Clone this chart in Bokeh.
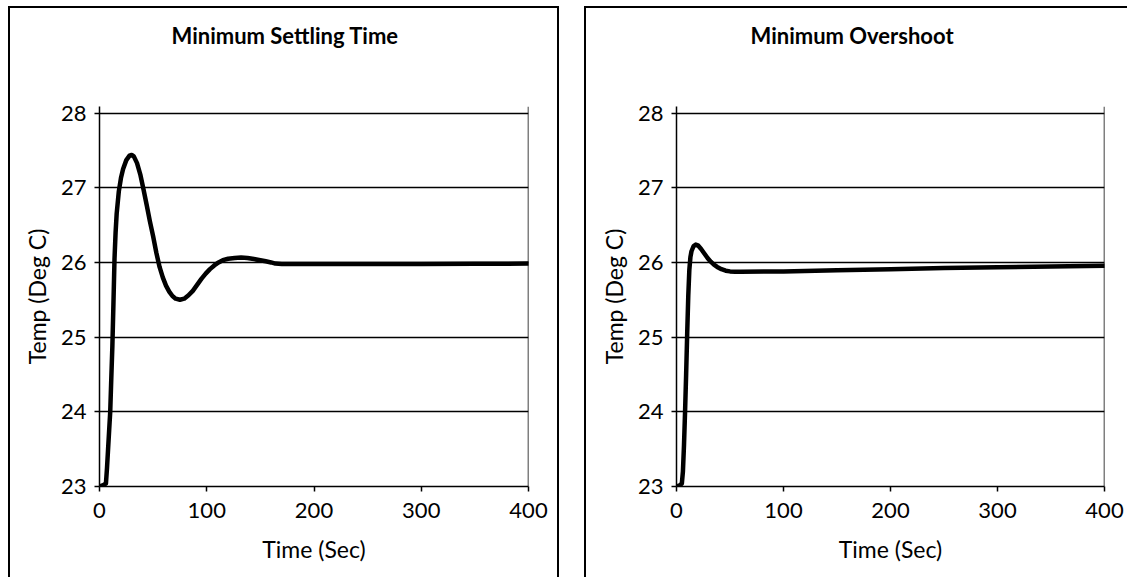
from bokeh.plotting import figure
from bokeh.models import Range1d, FixedTicker, Span, Title
from bokeh.layouts import row
from bokeh.embed import file_html
from bokeh.resources import INLINE

# ---- data ----
time_settling = [0, 3, 6, 7, 8, 9, 10, 11, 12, 13, 14, 15, 16, 18, 20, 22, 25, 28, 30,
                 32, 35, 38, 41, 44, 47, 50, 53, 56, 59, 62, 65, 68, 71, 75, 79, 83, 87,
                 91, 95, 99, 103, 107, 111, 115, 120, 126, 132, 138, 144, 150, 155, 160,
                 164, 170, 200, 250, 300, 350, 400]
temp_settling = [23.0, 23.015, 23.04, 23.25, 23.5, 23.75, 24.0, 24.45, 24.88, 25.45,
                 26.05, 26.4, 26.65, 26.95, 27.13, 27.25, 27.37, 27.43, 27.44, 27.42,
                 27.33, 27.18, 26.98, 26.77, 26.55, 26.35, 26.13, 25.94, 25.8, 25.69,
                 25.61, 25.55, 25.515, 25.5, 25.515, 25.56, 25.62, 25.7, 25.78, 25.85,
                 25.91, 25.96, 26.0, 26.03, 26.05, 26.06, 26.065, 26.06, 26.045, 26.03,
                 26.015, 26.0, 25.985, 25.98, 25.978, 25.978, 25.98, 25.982, 25.985]

time_overshoot = [0, 3, 5, 6, 7, 8, 9, 10, 11, 12, 13, 14, 16, 18, 20, 23, 26, 29, 32,
                  35, 38, 42, 46, 50, 55, 60, 100, 150, 200, 250, 300, 350, 400]
temp_overshoot = [23.0, 23.015, 23.04, 23.2, 23.55, 24.0, 24.5, 25.05, 25.55, 25.9,
                  26.07, 26.15, 26.22, 26.24, 26.23, 26.18, 26.12, 26.06, 26.01, 25.97,
                  25.94, 25.91, 25.89, 25.88, 25.875, 25.875, 25.88, 25.895, 25.91,
                  25.925, 25.935, 25.945, 25.955]

x_ticks = [0, 100, 200, 300, 400]
y_ticks = [23, 24, 25, 26, 27, 28]
titles = ["Minimum Settling Time", "Minimum Overshoot"]
x_label = "Time (Sec)"
y_label = "Temp (Deg C)"

FONT = "Lato"
HEIGHT = 577
FRAME_H = 380


def make_panel(title, t, temp, width, mb_left, mb_right, title_offset, shadow):
    p = figure(width=width, height=HEIGHT,
               x_range=Range1d(0, 400), y_range=Range1d(23, 28.088),
               output_backend="svg", toolbar_location=None,
               min_border_left=mb_left, min_border_right=mb_right,
               min_border_top=106, min_border_bottom=HEIGHT - 106 - FRAME_H)
    p.styles = {"box-shadow": shadow}
    p.border_fill_color = None
    p.background_fill_color = None
    p.outline_line_color = None

    # blank spacer title next to the frame, real title above it
    p.add_layout(Title(text=" ", standoff=50, text_font_size="1px"), "above")
    p.add_layout(Title(text=title, align="left", offset=title_offset, standoff=10,
                       text_font=FONT, text_font_size="22px",
                       text_font_style="bold", text_color="black"), "above")

    for ax in (p.xaxis[0], p.yaxis[0]):
        ax.axis_line_color = "black"
        ax.axis_line_width = 1.5
        ax.major_tick_line_color = "black"
        ax.major_tick_line_width = 1.5
        ax.major_tick_in = 0
        ax.major_tick_out = 5
        ax.minor_tick_line_color = None
        ax.major_label_text_font = FONT
        ax.major_label_text_font_size = "22px"
        ax.major_label_text_color = "black"
        ax.axis_label_text_font = FONT
        ax.axis_label_text_font_size = "23px"
        ax.axis_label_text_font_style = "normal"
        ax.axis_label_text_color = "black"

    p.xaxis.ticker = FixedTicker(ticks=x_ticks)
    p.yaxis.ticker = FixedTicker(ticks=y_ticks)
    p.xaxis.axis_label = x_label
    p.yaxis.axis_label = y_label
    p.xaxis.major_label_standoff = 11
    p.yaxis.major_label_standoff = 8
    p.xaxis.axis_label_standoff = 14
    p.yaxis.axis_label_standoff = 7

    p.xgrid.grid_line_color = None
    p.ygrid.grid_line_color = "black"
    p.ygrid.grid_line_width = 1.5

    p.add_layout(Span(location=400, dimension="height", line_color="black", line_width=1.5))

    p.line(t, temp, line_color="black", line_width=4.5, line_join="round", line_cap="round")
    return p


p1 = make_panel(titles[0], time_settling, temp_settling, 559, 99, 31, 72,
                "inset 8px 0 0 0 #fff, inset 0 6px 0 0 #fff, "
                "inset 10px 0 0 0 #000, inset 0 8px 0 0 #000, inset -2px 0 0 0 #000")
p2 = make_panel(titles[1], time_overshoot, temp_overshoot, 543, 92, 23, 74,
                "inset 0 6px 0 0 #fff, inset 0 8px 0 0 #000, inset 2px 0 0 0 #000")

layout = row(p1, p2, spacing=25)

open("out.html", "w").write(file_html(layout, INLINE))
